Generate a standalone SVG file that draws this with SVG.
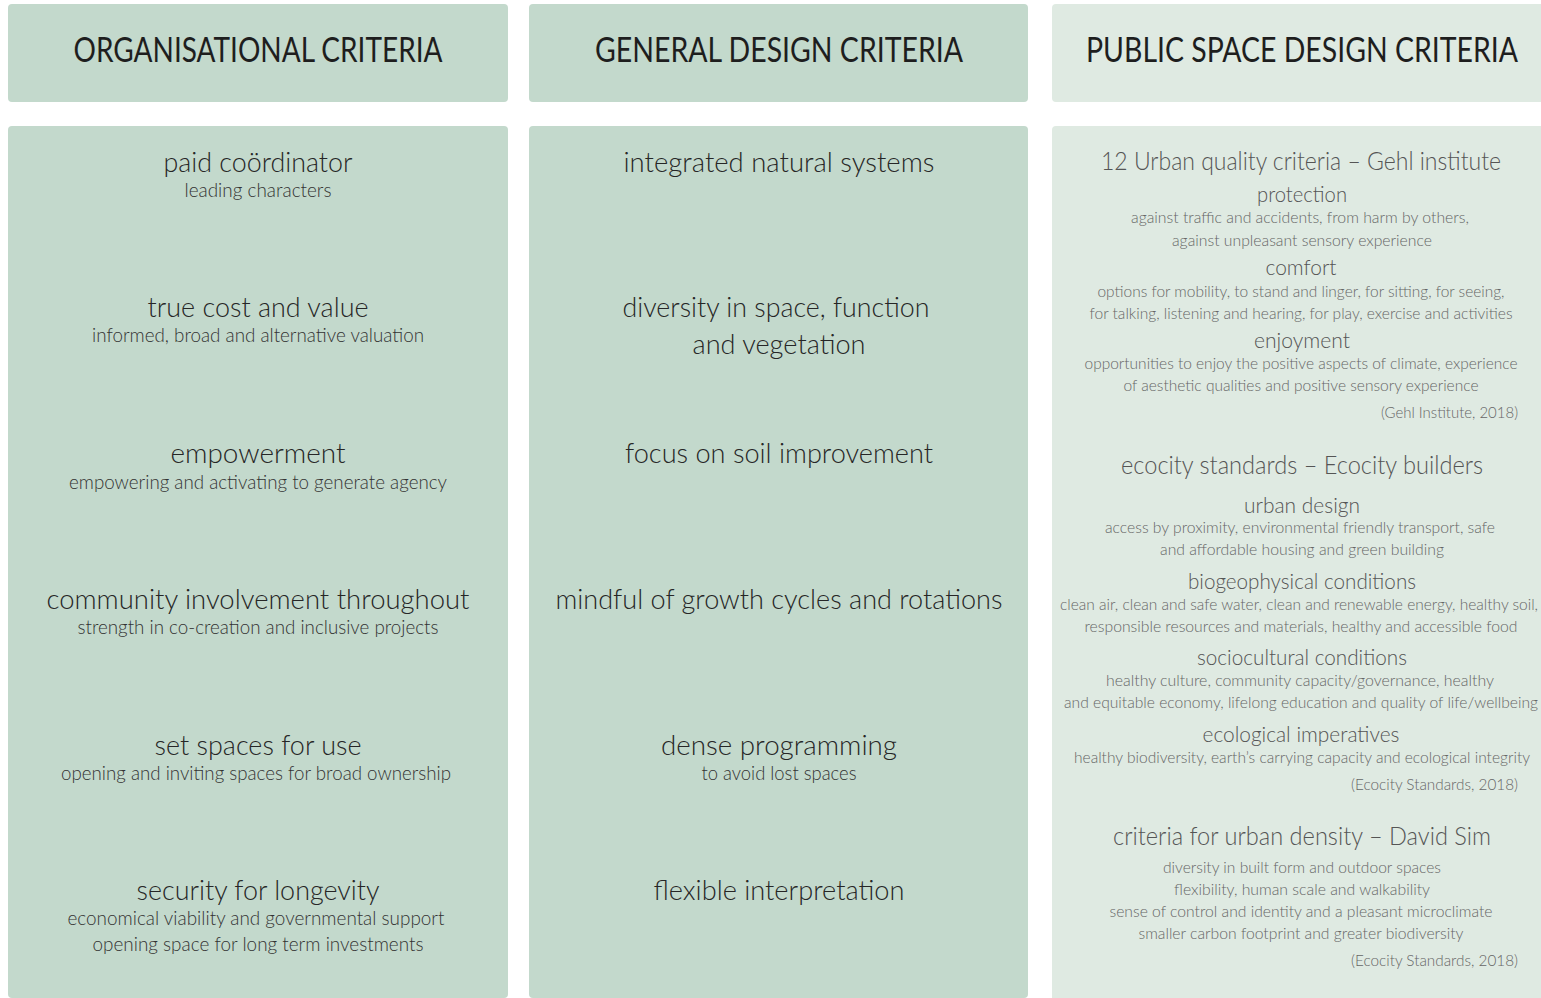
<svg xmlns="http://www.w3.org/2000/svg" width="1541" height="998" viewBox="0 0 1541 998">
<style>
.bg1{fill:#c3d9cc}
.bg3{fill:#dfeae2}
text{font-family:Lato,"Open Sans","Liberation Sans",sans-serif;text-anchor:middle}
.h{font-size:35px;fill:#1e1e1e;font-weight:400}
.t{font-size:28px;fill:#262626;font-weight:300}
.s{font-size:19px;fill:#333;font-weight:300}
.p1{font-size:26px;fill:#555;font-weight:300}
.p2{font-size:22px;fill:#555;font-weight:300}
.p3{font-size:16px;fill:#666;font-weight:300}
.r{text-anchor:end}
</style>
<g id="header-organisational">
<rect class="bg1" x="8" y="4" width="500" height="98" rx="4"/>
<text class="h" x="258" y="62" textLength="369" lengthAdjust="spacingAndGlyphs">ORGANISATIONAL CRITERIA</text>
</g>
<g id="header-general">
<rect class="bg1" x="529" y="4" width="499" height="98" rx="4"/>
<text class="h" x="779" y="62" textLength="368" lengthAdjust="spacingAndGlyphs">GENERAL DESIGN CRITERIA</text>
</g>
<g id="header-public">
<path class="bg3" d="M1056 4H1541V102H1056A4 4 0 0 1 1052 98V8A4 4 0 0 1 1056 4Z"/>
<text class="h" x="1302" y="62" textLength="432" lengthAdjust="spacingAndGlyphs">PUBLIC SPACE DESIGN CRITERIA</text>
</g>
<g id="organisational">
<rect class="bg1" x="8" y="126" width="500" height="872" rx="4"/>
<text class="t" x="258" y="172" textLength="189" lengthAdjust="spacingAndGlyphs">paid coördinator</text>
<text class="s" x="258" y="197" textLength="147" lengthAdjust="spacingAndGlyphs">leading characters</text>
<text class="t" x="258" y="317" textLength="221" lengthAdjust="spacingAndGlyphs">true cost and value</text>
<text class="s" x="258" y="342" textLength="332" lengthAdjust="spacingAndGlyphs">informed, broad and alternative valuation</text>
<text class="t" x="258" y="463" textLength="175" lengthAdjust="spacingAndGlyphs">empowerment</text>
<text class="s" x="258" y="489" textLength="378" lengthAdjust="spacingAndGlyphs">empowering and activating to generate agency</text>
<text class="t" x="258" y="609" textLength="423" lengthAdjust="spacingAndGlyphs">community involvement throughout</text>
<text class="s" x="258" y="634" textLength="361" lengthAdjust="spacingAndGlyphs">strength in co-creation and inclusive projects</text>
<text class="t" x="258" y="755" textLength="207" lengthAdjust="spacingAndGlyphs">set spaces for use</text>
<text class="s" x="256" y="780" textLength="390" lengthAdjust="spacingAndGlyphs">opening and inviting spaces for broad ownership</text>
<text class="t" x="258" y="900" textLength="243" lengthAdjust="spacingAndGlyphs">security for longevity</text>
<text class="s" x="256" y="925" textLength="377" lengthAdjust="spacingAndGlyphs">economical viability and governmental support</text>
<text class="s" x="258" y="951" textLength="331" lengthAdjust="spacingAndGlyphs">opening space for long term investments</text>
</g>
<g id="general">
<rect class="bg1" x="529" y="126" width="499" height="872" rx="4"/>
<text class="t" x="779" y="172" textLength="311" lengthAdjust="spacingAndGlyphs">integrated natural systems</text>
<text class="t" x="776" y="317" textLength="307" lengthAdjust="spacingAndGlyphs">diversity in space, function</text>
<text class="t" x="779" y="354" textLength="173" lengthAdjust="spacingAndGlyphs">and vegetation</text>
<text class="t" x="779" y="463" textLength="308" lengthAdjust="spacingAndGlyphs">focus on soil improvement</text>
<text class="t" x="779" y="609" textLength="447" lengthAdjust="spacingAndGlyphs">mindful of growth cycles and rotations</text>
<text class="t" x="779" y="755" textLength="236" lengthAdjust="spacingAndGlyphs">dense programming</text>
<text class="s" x="779" y="780" textLength="155" lengthAdjust="spacingAndGlyphs">to avoid lost spaces</text>
<text class="t" x="779" y="900" textLength="251" lengthAdjust="spacingAndGlyphs">flexible interpretation</text>
</g>
<g id="public">
<path class="bg3" d="M1056 126H1541V998H1052V130A4 4 0 0 1 1056 126Z"/>
<text class="p1" x="1301" y="170" textLength="400" lengthAdjust="spacingAndGlyphs">12 Urban quality criteria – Gehl institute</text>
<text class="p2" x="1302" y="202" textLength="90" lengthAdjust="spacingAndGlyphs">protection</text>
<text class="p3" x="1300" y="223" textLength="338" lengthAdjust="spacingAndGlyphs">against traffic and accidents, from harm by others,</text>
<text class="p3" x="1302" y="246" textLength="260" lengthAdjust="spacingAndGlyphs">against unpleasant sensory experience</text>
<text class="p2" x="1301" y="275" textLength="71" lengthAdjust="spacingAndGlyphs">comfort</text>
<text class="p3" x="1301" y="297" textLength="407" lengthAdjust="spacingAndGlyphs">options for mobility, to stand and linger, for sitting, for seeing,</text>
<text class="p3" x="1301" y="319" textLength="423" lengthAdjust="spacingAndGlyphs">for talking, listening and hearing, for play, exercise and activities</text>
<text class="p2" x="1302" y="348" textLength="96" lengthAdjust="spacingAndGlyphs">enjoyment</text>
<text class="p3" x="1301" y="369" textLength="433" lengthAdjust="spacingAndGlyphs">opportunities to enjoy the positive aspects of climate, experience</text>
<text class="p3" x="1301" y="391" textLength="355" lengthAdjust="spacingAndGlyphs">of aesthetic qualities and positive sensory experience</text>
<text class="p3 r" x="1518" y="418" textLength="137" lengthAdjust="spacingAndGlyphs">(Gehl Institute, 2018)</text>
<text class="p1" x="1302" y="474" textLength="362" lengthAdjust="spacingAndGlyphs">ecocity standards – Ecocity builders</text>
<text class="p2" x="1302" y="513" textLength="116" lengthAdjust="spacingAndGlyphs">urban design</text>
<text class="p3" x="1300" y="533" textLength="390" lengthAdjust="spacingAndGlyphs">access by proximity, environmental friendly transport, safe</text>
<text class="p3" x="1302" y="555" textLength="284" lengthAdjust="spacingAndGlyphs">and affordable housing and green building</text>
<text class="p2" x="1302" y="589" textLength="228" lengthAdjust="spacingAndGlyphs">biogeophysical conditions</text>
<text class="p3" x="1299" y="610" textLength="478" lengthAdjust="spacingAndGlyphs">clean air, clean and safe water, clean and renewable energy, healthy soil,</text>
<text class="p3" x="1301" y="632" textLength="433" lengthAdjust="spacingAndGlyphs">responsible resources and materials, healthy and accessible food</text>
<text class="p2" x="1302" y="665" textLength="210" lengthAdjust="spacingAndGlyphs">sociocultural conditions</text>
<text class="p3" x="1300" y="686" textLength="388" lengthAdjust="spacingAndGlyphs">healthy culture, community capacity/governance, healthy</text>
<text class="p3" x="1301" y="708" textLength="474" lengthAdjust="spacingAndGlyphs">and equitable economy, lifelong education and quality of life/wellbeing</text>
<text class="p2" x="1301" y="742" textLength="197" lengthAdjust="spacingAndGlyphs">ecological imperatives</text>
<text class="p3" x="1302" y="763" textLength="456" lengthAdjust="spacingAndGlyphs">healthy biodiversity, earth’s carrying capacity and ecological integrity</text>
<text class="p3 r" x="1518" y="790" textLength="167" lengthAdjust="spacingAndGlyphs">(Ecocity Standards, 2018)</text>
<text class="p1" x="1302" y="845" textLength="378" lengthAdjust="spacingAndGlyphs">criteria for urban density – David Sim</text>
<text class="p3" x="1302" y="873" textLength="278" lengthAdjust="spacingAndGlyphs">diversity in built form and outdoor spaces</text>
<text class="p3" x="1302" y="895" textLength="256" lengthAdjust="spacingAndGlyphs">flexibility, human scale and walkability</text>
<text class="p3" x="1301" y="917" textLength="383" lengthAdjust="spacingAndGlyphs">sense of control and identity and a pleasant microclimate</text>
<text class="p3" x="1301" y="939" textLength="325" lengthAdjust="spacingAndGlyphs">smaller carbon footprint and greater biodiversity</text>
<text class="p3 r" x="1518" y="966" textLength="167" lengthAdjust="spacingAndGlyphs">(Ecocity Standards, 2018)</text>
</g>
</svg>
